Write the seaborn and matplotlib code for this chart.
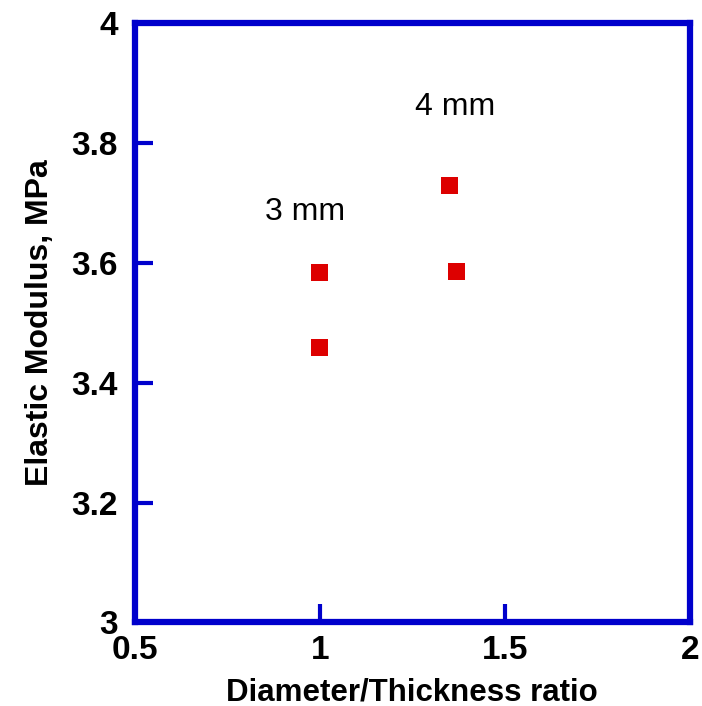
import matplotlib
matplotlib.use("Agg")
import matplotlib.pyplot as plt
import seaborn as sns
import pandas as pd

# values
ratio = [1.00, 1.00, 1.35, 1.37]
modulus = [3.583, 3.459, 3.729, 3.585]

x_ticks = [0.5, 1, 1.5, 2]
x_tick_labels = ["0.5", "1", "1.5", "2"]
y_ticks = [3, 3.2, 3.4, 3.6, 3.8, 4]
y_tick_labels = ["3", "3.2", "3.4", "3.6", "3.8", "4"]

notes = ["3 mm", "4 mm"]
note_x = [0.961, 1.366]
note_y = [3.684, 3.859]

blue = "#0000CC"
red = "#DD0000"

sns.set_style("white")
plt.rcParams["font.family"] = ["Liberation Sans", "DejaVu Sans"]
plt.rcParams["text.color"] = "black"
plt.rcParams["axes.labelcolor"] = "black"

df = pd.DataFrame({"ratio": ratio, "modulus": modulus})

fig = plt.figure(figsize=(7.02, 7.06), dpi=100)
ax = fig.add_axes([0.1916, 0.1183, 0.983 - 0.1916, 0.968 - 0.1183])

sns.scatterplot(
    data=df,
    x="ratio",
    y="modulus",
    marker="s",
    s=150,
    color=red,
    edgecolor="none",
    linewidth=0,
    ax=ax,
    zorder=3
)

# size labels next to the point groups
for txt, tx, ty in zip(notes, note_x, note_y):
    ax.text(tx, ty, txt, fontsize=23, ha="center", va="center", color="black")

ax.set_xlim(0.5, 2)
ax.set_ylim(3, 4)
ax.set_xticks(x_ticks)
ax.set_xticklabels(x_tick_labels, fontsize=24, fontweight="bold")
ax.set_yticks(y_ticks)
ax.set_yticklabels(y_tick_labels, fontsize=24, fontweight="bold")

ax.tick_params(axis="both", direction="in", length=13, width=3, color=blue,
               labelcolor="black", bottom=True, left=True, top=False, right=False)
ax.tick_params(axis="x", pad=9)
ax.tick_params(axis="y", pad=12)

for sp in ax.spines.values():
    sp.set_color(blue)
    sp.set_linewidth(4.5)

ax.set_xlabel("Diameter/Thickness ratio", fontsize=22.5, fontweight="bold", labelpad=8)
ax.set_ylabel("Elastic Modulus, MPa", fontsize=23, fontweight="bold", labelpad=11.5)

fig.savefig("out.png", dpi=100)
